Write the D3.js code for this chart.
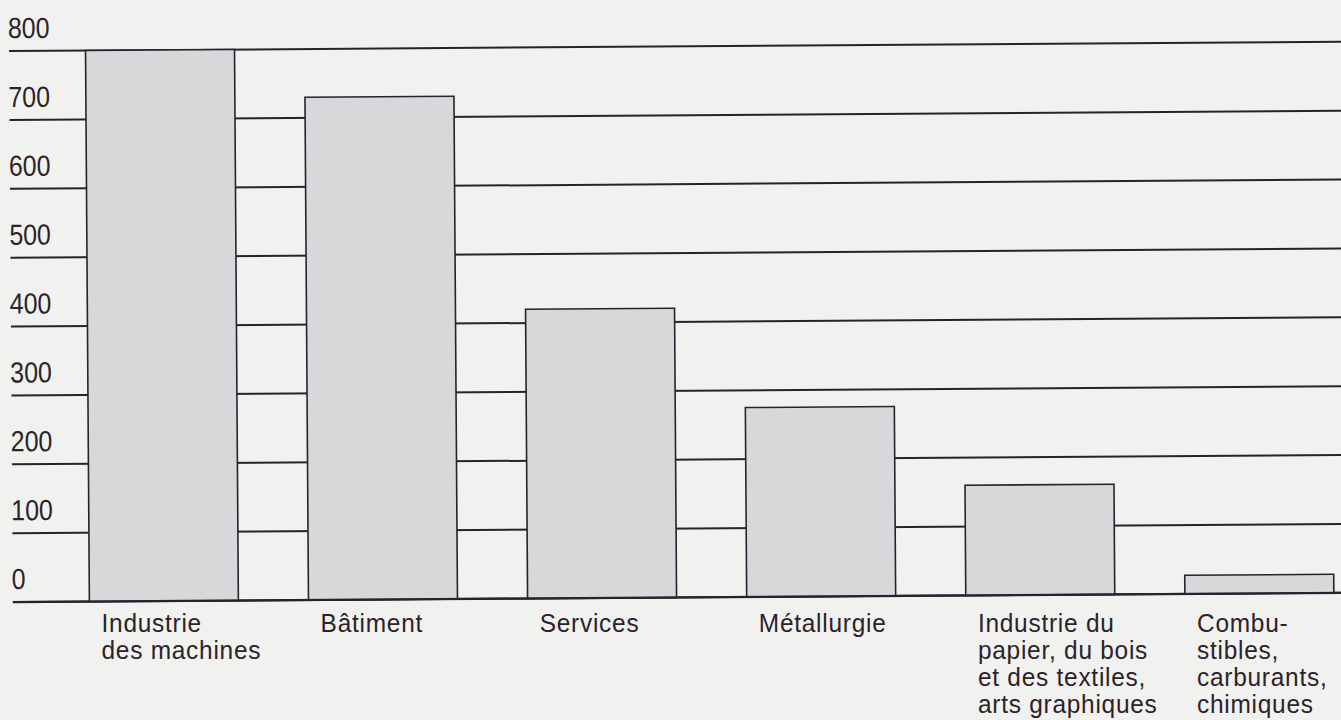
<!DOCTYPE html>
<html>
<head>
<meta charset="utf-8">
<script src="https://cdn.jsdelivr.net/npm/d3@7"></script>
<style>
  html, body { margin: 0; padding: 0; background: #f1f1ef; }
  svg { display: block; }
  text { font-family: "Liberation Sans", Arial, Helvetica, sans-serif; fill: #2b2329; }
</style>
</head>
<body>
<div id="chart-area"></div>
<script>
const chartWidth = 1341
const chartHeight = 720

// data
const categories = ["Industrie\ndes machines", "Bâtiment", "Services", "Métallurgie",
    "Industrie du\npapier, du bois\net des textiles,\narts graphiques",
    "Combu-\nstibles,\ncarburants,\nchimiques"];
const values = [800, 730, 420, 275, 160, 27];
const tickValues = [0, 100, 200, 300, 400, 500, 600, 700, 800];

const lineColor = "#2a2130";

const svg = d3.select("#chart-area").append("svg")
    .attr("width", chartWidth)
    .attr("height", chartHeight);

svg.append("rect")
    .attr("width", chartWidth)
    .attr("height", chartHeight)
    .attr("fill", "#f1f1ef");

// the scan is tilted a little, so the plot is turned by a fraction of a degree
const g = svg.append("g")
    .attr("transform", "rotate(-0.4, 670, 330)");

const x = d3.scaleBand()
    .domain(categories)
    .range([87.5, 1332])
    .paddingInner(0.32)
    .paddingOuter(0);

const y = d3.scaleLinear()
    .domain([0, 800])
    .range([597.5, 46.5]);

// gridlines (behind the bars)
g.selectAll(".grid")
    .data(tickValues)
    .enter()
    .append("line")
    .attr("class", "grid")
    .attr("x1", 11)
    .attr("x2", 1350)
    .attr("y1", d => y(d))
    .attr("y2", d => y(d))
    .attr("stroke", lineColor)
    .attr("stroke-width", 2);

// y tick labels (condensed face, so squeeze horizontally)
g.selectAll(".tick-label")
    .data(tickValues)
    .enter()
    .append("text")
    .attr("class", "tick-label")
    .attr("transform", d => `translate(10, ${y(d) - 13}) scale(0.86, 1)`)
    .attr("font-size", "29px")
    .text(d => d);

// bars
g.selectAll(".bar")
    .data(values)
    .enter()
    .append("rect")
    .attr("class", "bar")
    .attr("x", (d, i) => x(categories[i]))
    .attr("y", d => y(d))
    .attr("width", x.bandwidth())
    .attr("height", d => y(0) - y(d))
    .attr("fill", "#d7d8da")
    .attr("stroke", lineColor)
    .attr("stroke-width", 1.6);

// baseline over the bar bottoms
g.append("line")
    .attr("x1", 11)
    .attr("x2", 1350)
    .attr("y1", y(0))
    .attr("y2", y(0))
    .attr("stroke", lineColor)
    .attr("stroke-width", 2.2);

// category labels stay level, left aligned under each bar
const labels = svg.selectAll(".cat-label")
    .data(categories)
    .enter()
    .append("text")
    .attr("class", "cat-label")
    .attr("font-size", "26px")
    .attr("letter-spacing", "0.8px")
    .attr("transform", d => `translate(${x(d) + 14}, 632) scale(0.94, 1)`);

labels.selectAll("tspan")
    .data(d => d.split("\n"))
    .enter()
    .append("tspan")
    .attr("x", 0)
    .attr("dy", (d, i) => i === 0 ? 0 : 27)
    .text(d => d);
</script>
</body>
</html>
